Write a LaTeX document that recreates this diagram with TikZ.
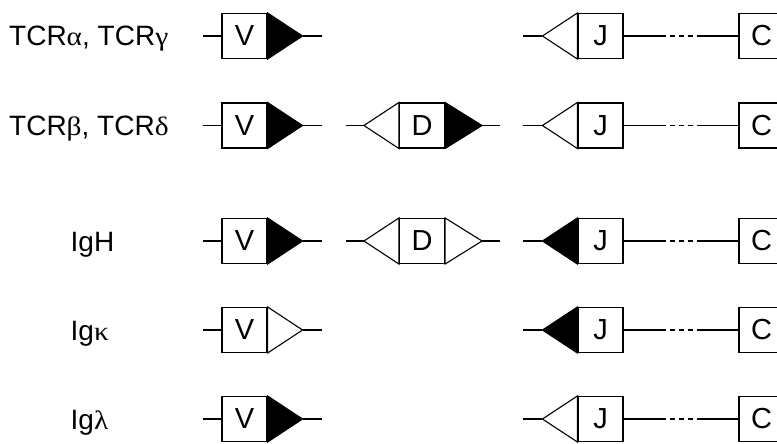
\documentclass[tikz,border=0pt]{standalone}
\usepackage{graphicx}
\usepackage{fontspec}
\setmainfont{Liberation Sans}
\newfontfamily\grk{Liberation Serif}
\usetikzlibrary{calc}
\newcommand\gkn[1]{\scalebox{1.05}[0.95]{\grk #1}}
\newcommand\Vseg[3]{%
  \node[seg] (#1) at (244.5,#2) {V};
  \coordinate (#1a) at ($(#1.east)+(35,0)$);
  \coordinate (#1o) at ($(#1.east)+(54,0)$);
  \coordinate (#1i) at ($(#1.west)+(-18,0)$);
  \draw[ln] (#1i) -- (#1.west);
  \draw[tri,fill=#3] (#1.north east) -- (#1a) -- (#1.south east) -- cycle;
  \draw[ln] (#1a) -- (#1o);}
\newcommand\Dseg[4]{%
  \node[seg] (#1) at (422,#2) {D};
  \coordinate (#1l) at ($(#1.west)+(-35,0)$);
  \coordinate (#1li) at ($(#1.west)+(-53,0)$);
  \coordinate (#1r) at ($(#1.east)+(37,0)$);
  \coordinate (#1ro) at ($(#1.east)+(55,0)$);
  \draw[ln] (#1li) -- (#1l);
  \draw[tri,fill=#3] (#1.north west) -- (#1l) -- (#1.south west) -- cycle;
  \draw[tri,fill=#4] (#1.north east) -- (#1r) -- (#1.south east) -- cycle;
  \draw[ln] (#1r) -- (#1ro);}
\newcommand\JCseg[3]{%
  \node[seg] (#1) at (600.5,#2) {J};
  \node[seg] (#1c) at (761.5,#2) {C};
  \coordinate (#1l) at ($(#1.west)+(-35,0)$);
  \coordinate (#1li) at ($(#1.west)+(-54,0)$);
  \coordinate (#1d) at ($(#1.east)+(37,0)$);
  \coordinate (#1e) at ($(#1c.west)+(-36,0)$);
  \draw[ln] (#1li) -- (#1l);
  \draw[tri,fill=#3] (#1.north west) -- (#1l) -- (#1.south west) -- cycle;
  \draw[ln] (#1.east) -- (#1d);
  \draw[ln,dash pattern=on 5pt off 4pt] (#1d) -- (#1e);
  \draw[ln] (#1e) -- (#1c.west);}
\begin{document}
\begin{tikzpicture}[x=1pt,y=-1pt,
  seg/.style={draw,fill=white,minimum width=45pt,minimum height=45pt,inner sep=0pt,
    line width=1.1pt,font=\fontsize{29}{29}\selectfont},
  ln/.style={line width=1.1pt},
  tri/.style={draw,line width=1.1pt,line join=miter},
  lbl/.style={anchor=base west,inner sep=0pt,font=\fontsize{28}{28}\selectfont}]
\useasboundingbox (0,0) rectangle (777,444);
\clip (0,0) rectangle (777,444);
\fill[white] (0,0) rectangle (777,444);

\node[lbl] (l1) at (9,46) {TCR\gkn{α}, TCR\gkn{γ}};
\node[lbl] (l2) at (9,135.5) {TCR\gkn{β}, TCR\gkn{δ}};
\node[lbl] (l3) at (70.5,251.5) {IgH};
\node[lbl] (l4) at (70.5,340) {Ig\gkn{κ}};
\node[lbl] (l5) at (70.5,429) {Ig\gkn{λ}};

\Vseg{va}{36}{black}
\JCseg{ja}{36}{white}

\Vseg{vb}{125.5}{black}
\Dseg{db}{125.5}{white}{black}
\JCseg{jb}{125.5}{white}

\Vseg{vc}{241}{black}
\Dseg{dc}{241}{white}{white}
\JCseg{jc}{241}{black}

\Vseg{vd}{330}{white}
\JCseg{jd}{330}{black}

\Vseg{ve}{419}{black}
\JCseg{je}{419}{white}
\end{tikzpicture}
\end{document}
